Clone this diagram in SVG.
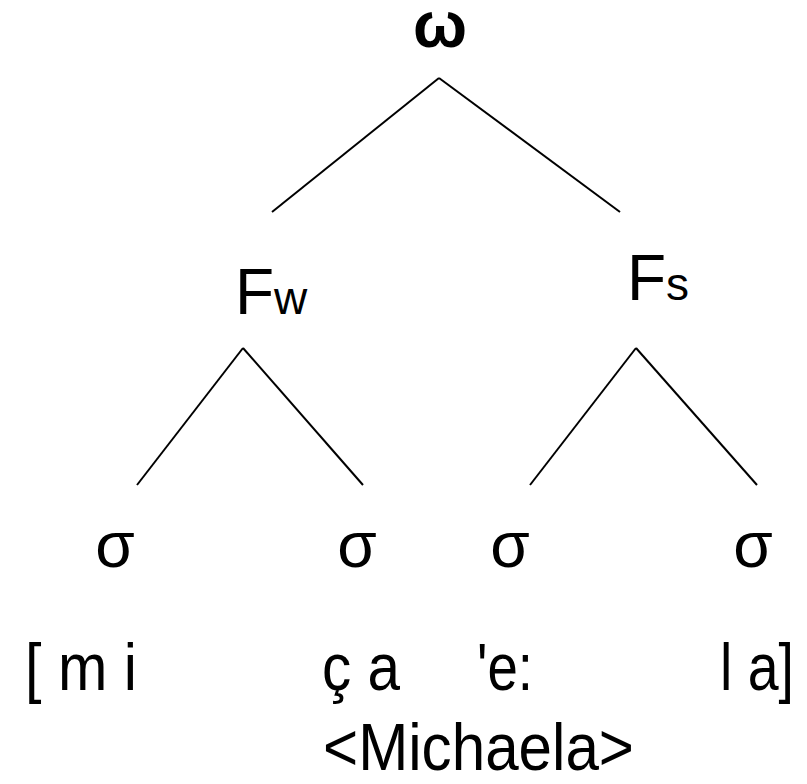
<svg xmlns="http://www.w3.org/2000/svg" width="807" height="784" viewBox="0 0 807 784">
<style>
text{font-family:"Liberation Sans",Arial,sans-serif;fill:#000}
.big{font-size:64px}
.sub{font-size:46px}
.row{font-size:66px}
.sig{font-size:64px;text-anchor:middle}
line{stroke:#000;stroke-width:2}
</style>
<rect width="807" height="784" fill="#fff"/>
<g id="connectors">
<line x1="439" y1="78" x2="272" y2="212"/>
<line x1="439" y1="78" x2="620" y2="212"/>
<line x1="243" y1="348" x2="137" y2="485"/>
<line x1="243" y1="348" x2="363" y2="485"/>
<line x1="636" y1="348" x2="530" y2="485"/>
<line x1="636" y1="348" x2="757" y2="485"/>
</g>
<g id="omega"><text x="440" y="47" class="big" font-weight="bold" text-anchor="middle">ω</text></g>
<g id="Fw"><text x="235" y="314"><tspan class="big">F</tspan><tspan class="sub">w</tspan></text></g>
<g id="Fs"><text x="627" y="300"><tspan class="big">F</tspan><tspan class="sub">s</tspan></text></g>
<g id="sigma1"><text x="115" y="567" class="sig">σ</text></g>
<g id="sigma2"><text x="357" y="567" class="sig">σ</text></g>
<g id="sigma3"><text x="510" y="567" class="sig">σ</text></g>
<g id="sigma4"><text x="753" y="567" class="sig">σ</text></g>
<g id="syl1"><text x="25" y="690" class="row" textLength="112" lengthAdjust="spacingAndGlyphs">[ m i</text></g>
<g id="syl2"><text x="322" y="690" class="row" textLength="78" lengthAdjust="spacingAndGlyphs">ç a</text></g>
<g id="syl3"><text x="477" y="690" class="row" textLength="56" lengthAdjust="spacingAndGlyphs">'e:</text></g>
<g id="syl4"><text x="720" y="690" class="row" textLength="74" lengthAdjust="spacingAndGlyphs">l a]</text></g>
<g id="word"><text x="323" y="770" class="row" textLength="311" lengthAdjust="spacingAndGlyphs">&lt;Michaela&gt;</text></g>
</svg>
